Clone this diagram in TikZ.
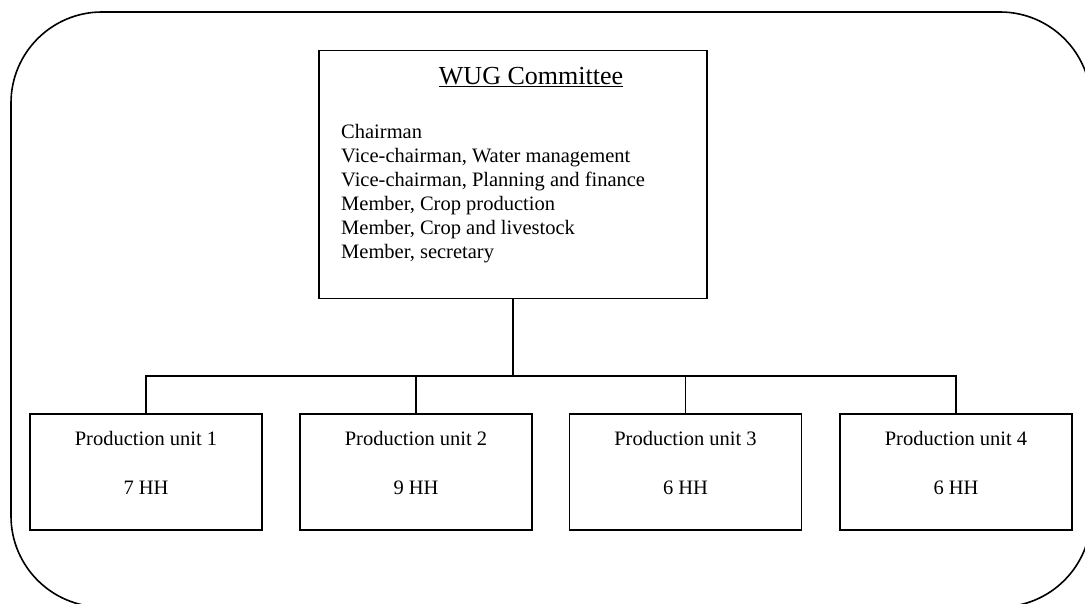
\documentclass[tikz,border=0pt]{standalone}
\usepackage{fontspec}
\setmainfont{Liberation Serif}
\begin{document}
\begin{tikzpicture}[x=1pt,y=-1pt,
  unitbox/.style={draw,line width=1.8pt,minimum width=232pt,minimum height=116pt,inner sep=0pt},
  wugbox/.style={draw,line width=1.8pt,minimum width=388pt,minimum height=248pt,inner sep=0pt},
  txt/.style={inner sep=0pt,font=\fontsize{20.5}{24}\selectfont},
  conn/.style={line width=1.1pt}]
\useasboundingbox (0,0) rectangle (1085,604);
% outer frame
\draw[line width=1.6pt,rounded corners=91pt] (11,12) rectangle (1091,607);
% committee box
\node[wugbox] (wug) at (513,174.5) {};
\node[inner sep=0pt,font=\fontsize{26}{30}\selectfont] (title) at (531,77) {\underline{WUG Committee}};
\node[txt,align=left,anchor=west] (members) at (341,194) {Chairman\\Vice-chairman, Water management\\Vice-chairman, Planning and finance\\Member, Crop production\\Member, Crop and livestock\\Member, secretary};
% production units
\node[unitbox] (u1) at (146,472) {};
\node[unitbox] (u2) at (416,472) {};
\node[unitbox] (u3) at (685.5,472) {};
\node[unitbox] (u4) at (956,472) {};
\node[txt] (u1a) at (146,438) {Production unit 1};
\node[txt] (u1b) at (146,488) {7 HH};
\node[txt] (u2a) at (416,438) {Production unit 2};
\node[txt] (u2b) at (416,488) {9 HH};
\node[txt] (u3a) at (685.5,438) {Production unit 3};
\node[txt] (u3b) at (685.5,488) {6 HH};
\node[txt] (u4a) at (956,438) {Production unit 4};
\node[txt] (u4b) at (956,488) {6 HH};
% connectors
\coordinate (bus) at (513,376);
\draw[line width=2.2pt] (wug.south) -- (wug.south |- bus);
\draw[conn] (u1.north) -- (u1.north |- bus) -- (u4.north |- bus) -- (u4.north);
\draw[conn] (u2.north) -- (u2.north |- bus);
\draw[conn] (u3.north) -- (u3.north |- bus);
\end{tikzpicture}
\end{document}
